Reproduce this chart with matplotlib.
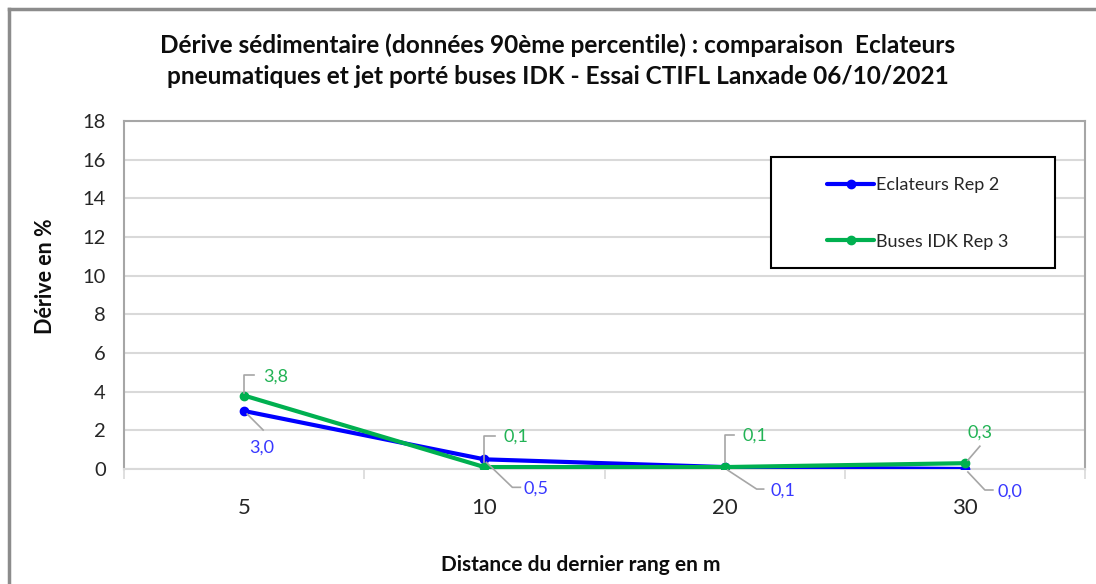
import numpy as np
import matplotlib.pyplot as plt
from matplotlib.lines import Line2D
from matplotlib.patches import Rectangle

plt.rcParams['font.family'] = ['Lato', 'DejaVu Sans']

# distances (categories) and drift values in %
distances = ['5', '10', '20', '30']
eclateurs = [3.0, 0.5, 0.1, 0.0]
buses_idk = [3.8, 0.1, 0.1, 0.3]
labels_ecl = ['3,0', '0,5', '0,1', '0,0']
labels_idk = ['3,8', '0,1', '0,1', '0,3']

W, H = 1096, 584
fig = plt.figure(figsize=(W / 100, H / 100), dpi=100)
# plot area in pixels: left 124, right 1085, top 121, bottom 469
ax = fig.add_axes([124 / W, (H - 469) / H, (1085 - 124) / W, (469 - 121) / H])

x = np.arange(len(distances))
blue, green = '#0000FF', '#00B050'
ax.plot(x, eclateurs, color=blue, lw=3, marker='o', ms=6, label='Eclateurs Rep 2',
        solid_capstyle='round', zorder=3)
ax.plot(x, buses_idk, color=green, lw=3, marker='o', ms=6, label='Buses IDK Rep 3',
        solid_capstyle='round', zorder=4)

ax.set_xlim(-0.5, len(distances) - 0.5)
ax.set_ylim(0, 18)
ax.set_yticks(np.arange(0, 19, 2))
ax.set_xticks(x)
ax.set_xticklabels(distances)
ax.set_xticks(np.arange(-0.5, len(distances), 1), minor=True)
ax.tick_params(axis='x', which='major', length=0, pad=21, labelsize=16, labelcolor='#262626')
ax.tick_params(axis='x', which='minor', length=7, width=1.2, color='#D9D9D9', direction='out')
ax.tick_params(axis='y', length=0, pad=13, labelsize=14.5, labelcolor='#262626')
ax.grid(axis='y', color='#D9D9D9', lw=1.5, zorder=0)
ax.set_axisbelow(True)
for s in ['left', 'top', 'right']:
    ax.spines[s].set_color('#A6A6A6')
    ax.spines[s].set_linewidth(1.5)
ax.spines['bottom'].set_color('#D9D9D9')
ax.spines['bottom'].set_linewidth(1.5)

# data labels with leader lines (offsets in pixels)
lead = '#A6A6A6'
fig.canvas.draw()

def label(xi, yi, txt, col, pts, tx, ty, ha):
    px, py = ax.transData.transform((xi, yi))
    xs = [px + p[0] for p in pts]
    ys = [py + p[1] for p in pts]
    fig.add_artist(Line2D(xs, ys, transform=None, color=lead, lw=1.2, zorder=5))
    fig.text((px + tx) / W, (py + ty) / H, txt, color=col, fontsize=13,
             ha=ha, va='center')

lbl_blue, lbl_green = '#3838FF', '#22B355'
idk_layout = [
    ([(0, 3), (0, 21), (10, 21)], 19, 19, 'left'),
    ([(0, 5), (0, 31), (11, 31)], 19, 30, 'left'),
    ([(0, 5), (0, 32), (9, 32)], 18, 31, 'left'),
    ([(3, 3), (15, 17)], 15, 31, 'center'),
]
ecl_layout = [
    ([(3, -3), (19, -19)], 18, -37, 'center'),
    ([(2, -3), (28, -28), (36, -28)], 39, -29, 'left'),
    ([(3, -3), (32, -22), (39, -22)], 46, -24, 'left'),
    ([(3, -3), (20, -21), (28, -21)], 33, -23, 'left'),
]
for i in range(len(distances)):
    pts, tx, ty, ha = idk_layout[i]
    label(x[i], buses_idk[i], labels_idk[i], lbl_green, pts, tx, ty, ha)
    pts, tx, ty, ha = ecl_layout[i]
    label(x[i], eclateurs[i], labels_ecl[i], lbl_blue, pts, tx, ty, ha)

# legend
fig.add_artist(Rectangle((771 / W, (H - 268) / H), 284 / W, 111 / H,
                         transform=fig.transFigure, fill=True, facecolor='white',
                         edgecolor='black', lw=1.5, zorder=6))
leg = fig.legend(loc='upper left', bbox_to_anchor=(818 / W, (H - 168) / H),
                 frameon=False, fontsize=13, handlelength=2.6, handletextpad=0.1,
                 labelspacing=2.25, borderpad=0, markerscale=1.0)
leg.set_zorder(7)
for t in leg.get_texts():
    t.set_color('#262626')

# titles
fig.text(558 / W, 1 - 45 / H,
         'Dérive sédimentaire (données 90ème percentile) : comparaison  Eclateurs',
         ha='center', va='center', fontsize=17.6, fontweight='bold', color='#0D0D0D')
fig.text(558 / W, 1 - 76 / H,
         'pneumatiques et jet porté buses IDK - Essai CTIFL Lanxade 06/10/2021',
         ha='center', va='center', fontsize=17.6, fontweight='bold', color='#0D0D0D')
fig.text(581 / W, 1 - 565 / H, 'Distance du dernier rang en m', ha='center',
         va='center', fontsize=15, fontweight='bold', color='#0D0D0D')
fig.text(45 / W, 1 - 276 / H, 'Dérive en %', ha='center', va='center',
         rotation=90, fontsize=15.5, fontweight='bold', color='#0D0D0D')

# outer chart frame
fig.add_artist(Line2D([9 / W, 9 / W], [0, 1 - 9 / H], color='#8C8C8C', lw=2.5))
fig.add_artist(Line2D([9 / W, 1], [1 - 9 / H, 1 - 9 / H], color='#8C8C8C', lw=2.5))

fig.savefig('out.png', dpi=100)
